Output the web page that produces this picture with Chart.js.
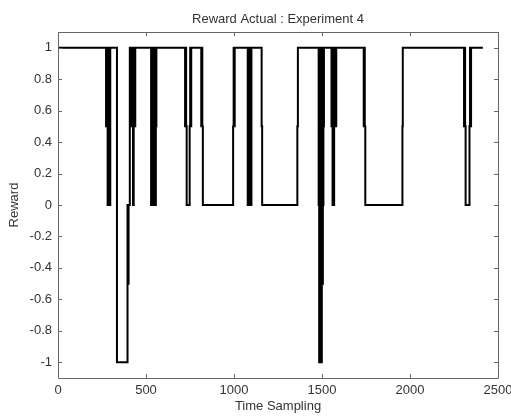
<!DOCTYPE html>
<html lang="en">
<head>
    <meta charset="UTF-8">
    <title>Reward Actual : Experiment 4</title>
    <script src="https://cdn.jsdelivr.net/npm/chart.js"></script>
    <style>
        html, body { margin: 0; padding: 0; background: #fff; }
        #chartBox { width: 511px; height: 416px; }
    </style>
</head>
<body>
    <div id="chartBox">
        <canvas id="rewardChart"></canvas>
    </div>

    <script>
        // Time sample where the reward changes, and the reward from that sample on
        const sampleTimes = [
            0,
            273, 276, 279, 282, 285, 288, 291, 294, 297,
            335,
            395, 398, 401,
            408, 411, 414, 417, 420, 423, 426, 430, 433, 436, 439,
            529, 532, 535, 538, 541, 544, 547, 550, 553, 556, 559,
            722, 725, 728, 731,
            748, 751, 754, 757,
            814, 817, 820, 823,
            995, 998, 1001, 1004,
            1078, 1081, 1084, 1087, 1090, 1093, 1096, 1099,
            1157, 1160,
            1360, 1363,
            1481, 1484, 1487, 1490, 1493, 1496, 1499, 1502, 1505, 1508, 1511,
            1554, 1557, 1560, 1563, 1566, 1569, 1572, 1575, 1578, 1581,
            1737, 1740, 1743, 1746,
            1957, 1959,
            2307, 2310, 2313, 2316,
            2338, 2341, 2344, 2347,
            2414
        ];
        const rewardValues = [
            1,
            0.5, 1, 0.5, 0, 1, 0, 0.5, 0, 1,
            -1,
            0, -0.5, 0,
            1, 0.5, 1, 0.5, 1, 0.5, 0, 0.5, 1, 0.5, 1,
            0, 1, 0.5, 0, 1, 0, 0.5, 1, 0, 0.5, 1,
            0.5, 1, 0.5, 0,
            0.5, 1, 0.5, 1,
            0.5, 1, 0.5, 0,
            0.5, 1, 0.5, 1,
            0, 1, 0.5, 0, 1, 0.5, 0, 1,
            0.5, 0,
            0.5, 1,
            0, -1, 1, -1, 0.5, -1, 1, -0.5, 0, 0.5, 1,
            0.5, 1, 0, 0.5, 0, 1, 0.5, 1, 0.5, 1,
            0.5, 1, 0.5, 0,
            0.5, 1,
            0.5, 1, 0.5, 0,
            0.5, 1, 0.5, 1,
            1
        ];

        // Axis ticks
        const xTickValues = [0, 500, 1000, 1500, 2000, 2500];
        const yTickValues = [-1, -0.8, -0.6, -0.4, -0.2, 0, 0.2, 0.4, 0.6, 0.8, 1];

        const axisColor = '#666';
        const textColor = '#333';
        const fontFamily = '"Liberation Sans", Arial, Helvetica, sans-serif';

        // Draws the axes box and the inward tick marks on all four sides
        const boxAndTicks = {
            id: 'boxAndTicks',
            afterDraw(chart) {
                const ctx = chart.ctx;
                const area = chart.chartArea;
                const x = chart.scales.x;
                const y = chart.scales.y;
                const len = 4;
                ctx.save();
                ctx.strokeStyle = axisColor;
                ctx.lineWidth = 1;
                ctx.beginPath();
                ctx.rect(Math.round(area.left) + 0.5, Math.round(area.top) + 0.5,
                    Math.round(area.right - area.left), Math.round(area.bottom - area.top));
                xTickValues.forEach(v => {
                    const px = Math.round(x.getPixelForValue(v)) + 0.5;
                    ctx.moveTo(px, area.bottom);
                    ctx.lineTo(px, area.bottom - len);
                    ctx.moveTo(px, area.top);
                    ctx.lineTo(px, area.top + len);
                });
                yTickValues.forEach(v => {
                    const py = Math.round(y.getPixelForValue(v)) + 0.5;
                    ctx.moveTo(area.left, py);
                    ctx.lineTo(area.left + len, py);
                    ctx.moveTo(area.right, py);
                    ctx.lineTo(area.right - len, py);
                });
                ctx.stroke();
                ctx.restore();
            }
        };

        function renderRewardChart() {
            const ctx = document.getElementById('rewardChart').getContext('2d');
            const points = sampleTimes.map((t, i) => ({ x: t, y: rewardValues[i] }));

            new Chart(ctx, {
                type: 'line',
                data: {
                    datasets: [{
                        data: points,
                        stepped: true,
                        borderColor: '#000',
                        borderWidth: 2,
                        pointRadius: 0,
                        fill: false
                    }]
                },
                options: {
                    responsive: true,
                    maintainAspectRatio: false,
                    animation: false,
                    layout: { padding: { right: 13 } },
                    plugins: {
                        legend: { display: false },
                        tooltip: { enabled: false },
                        title: {
                            display: true,
                            text: 'Reward Actual : Experiment 4',
                            fullSize: false,
                            color: textColor,
                            font: { family: fontFamily, size: 13, weight: 'normal', lineHeight: 1.2 },
                            padding: { top: 12, bottom: 4.4 }
                        }
                    },
                    scales: {
                        x: {
                            type: 'linear',
                            min: 0,
                            max: 2500,
                            grid: { display: false, drawTicks: false },
                            border: { display: false },
                            afterBuildTicks: scale => {
                                scale.ticks = xTickValues.map(v => ({ value: v }));
                            },
                            afterFit: scale => {
                                scale.height = 38;
                                scale.paddingLeft = 0;
                                scale.paddingRight = 0;
                            },
                            ticks: {
                                color: textColor,
                                font: { family: fontFamily, size: 13 },
                                padding: 5,
                                maxRotation: 0,
                                callback: v => String(v)
                            },
                            title: {
                                display: true,
                                text: 'Time Sampling',
                                color: textColor,
                                font: { family: fontFamily, size: 13, lineHeight: 1.2 },
                                padding: { top: 0, bottom: 2 }
                            }
                        },
                        y: {
                            type: 'linear',
                            min: -1.1,
                            max: 1.1,
                            grid: { display: false, drawTicks: false },
                            border: { display: false },
                            afterBuildTicks: scale => {
                                scale.ticks = yTickValues.map(v => ({ value: v }));
                            },
                            afterFit: scale => {
                                scale.width = 58;
                            },
                            ticks: {
                                color: textColor,
                                font: { family: fontFamily, size: 13 },
                                padding: 6,
                                callback: v => String(v)
                            },
                            title: {
                                display: true,
                                text: 'Reward',
                                color: textColor,
                                font: { family: fontFamily, size: 13, lineHeight: 1.2 },
                                padding: { top: 7, bottom: 7 }
                            }
                        }
                    }
                },
                plugins: [boxAndTicks]
            });
        }

        renderRewardChart();
    </script>
</body>
</html>
